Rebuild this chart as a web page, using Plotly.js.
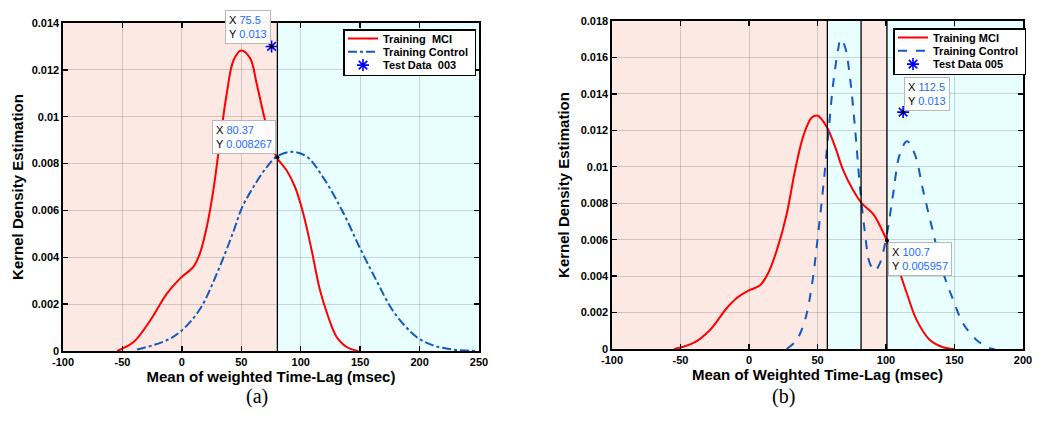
<!DOCTYPE html>
<html><head><meta charset="utf-8">
<script src="https://cdn.plot.ly/plotly-3.0.1.min.js"></script>
<style>html,body{margin:0;padding:0;background:#fff}#chart{width:1050px;height:429px}</style>
</head><body><div id="chart"></div>
<script>
// ---------- Panel (a) data ----------
const mciXA = [-54.6,-50,-40.6,-26.6,-12.6,-1.4,9.8,15.4,21,26.6,32.2,37.8,43.4,49.8,57.4,63,70,79.2,88.2,95.2,102.2,109.2,116.2,123.2,130.2,138.6,148.4];
const mciYA = [0,0.0001,0.00038,0.0013,0.00245,0.0031,0.0036,0.0042,0.0053,0.0069,0.009,0.011,0.0124,0.01283,0.0125,0.0114,0.00985,0.00832,0.0077,0.0070,0.00586,0.0043,0.0026,0.00145,0.0006,0.00017,0];
const ctrlXA = [-37.8,-12.6,0,15.4,29.4,43.4,50.4,60.2,71.4,79.8,92.4,105,119,135.8,149.8,163.8,177.8,197.4,211.4,228.2,247.8];
const ctrlYA = [0.00006,0.00046,0.00088,0.0018,0.0033,0.0051,0.0061,0.0070,0.00785,0.0083,0.0085,0.0083,0.0074,0.0059,0.0044,0.0030,0.0017,0.0006,0.00024,0.00006,0];
const testXA = [75.5], testYA = [0.013];
const tipXA = [75.5, 80.37], tipYA = [0.013, 0.008267];
const tipTextXA = ['75.5', '80.37'], tipTextYA = ['0.013', '0.008267'];
const boundsA = [-100, 80.37, 250];           // region edges: MCI | Control
const regionClassA = ['mci', 'ctrl'];
const vlinesA = [80.37];
const xTicksA = [-100,-50,0,50,100,150,200,250];
const yTicksA = [0,0.002,0.004,0.006,0.008,0.01,0.012,0.014];
const yTickTextA = ['0','0.002','0.004','0.006','0.008','0.01','0.012','0.014'];
const legendNamesA = ['Training  MCI', 'Training Control', 'Test Data  003'];
const xTitleA = 'Mean of weighted Time-Lag (msec)';

// ---------- Panel (b) data ----------
const mciXB = [-54.6,-40.5,-28.3,-16.2,-8.9,-0.4,8.1,14.2,20.2,27.5,33.6,39.7,45.8,50.1,56.7,62.8,68.8,76.1,82.2,90.7,100.4,107.7,115,122.3,132,141.7,149.7];
const mciYB = [0,0.00033,0.00106,0.00225,0.0028,0.0032,0.0035,0.0042,0.0054,0.0074,0.0098,0.0117,0.0127,0.0128,0.0122,0.0111,0.0098,0.0087,0.0080,0.0074,0.0060,0.0047,0.0031,0.0016,0.0005,0.0001,0];
const ctrlXB = [27.5,34.8,40.9,45.7,50.6,54.2,57.9,61.5,65.2,66.9,70,73.7,77.3,81,84.6,88.2,91.9,95.5,100.4,105.2,110.1,115.4,121,127.1,134.4,141.7,149,156.3,166,175.7,179.3];
const ctrlYB = [0,0.0005,0.0016,0.0034,0.0064,0.0089,0.0118,0.0146,0.0165,0.0170,0.0166,0.0149,0.0122,0.0089,0.0064,0.0047,0.0043,0.0047,0.0062,0.0085,0.0107,0.0114,0.0107,0.0087,0.0064,0.0042,0.0027,0.0014,0.0005,0.00005,0];
const testXB = [112.5], testYB = [0.013];
const tipXB = [112.5, 100.7], tipYB = [0.013, 0.005957];
const tipTextXB = ['112.5', '100.7'], tipTextYB = ['0.013', '0.005957'];
const boundsB = [-100, 57.2, 81.8, 100.7, 200];
const regionClassB = ['mci', 'ctrl', 'mci', 'ctrl'];
const vlinesB = [57.2, 81.8, 100.7];
const xTicksB = [-100,-50,0,50,100,150,200];
const yTicksB = [0,0.002,0.004,0.006,0.008,0.01,0.012,0.014,0.016,0.018];
const yTickTextB = ['0','0.002','0.004','0.006','0.008','0.01','0.012','0.014','0.016','0.018'];
const legendNamesB = ['Training MCI', 'Training Control', 'Test Data 005'];
const xTitleB = 'Mean of Weighted Time-Lag (msec)';

const yTitle = 'Kernel Density Estimation';
const panelLabels = ['(a)', '(b)'];

// ---------- styles ----------
const FONT = 'Liberation Sans, Arial, Helvetica, sans-serif';
const RED = '#ff0000', BLUE = '#1558c0', STAR = '#0000ff';
const FILL = {mci: '#fde9e4', ctrl: '#e9fefe'};
const TIPBLUE = '#1a6cff';

function traces(mx, my, cx, cy, tx, ty, px, py, names, xa, ya, leg, dash) {
  return [
    {x: mx, y: my, xaxis: xa, yaxis: ya, legend: leg, name: names[0], type: 'scatter', mode: 'lines',
     line: {color: RED, width: 2, shape: 'spline', smoothing: 1}},
    {x: cx, y: cy, xaxis: xa, yaxis: ya, legend: leg, name: names[1], type: 'scatter', mode: 'lines',
     line: {color: BLUE, width: 2, dash: dash, shape: 'spline', smoothing: 1}},
    {x: tx, y: ty, xaxis: xa, yaxis: ya, legend: leg, name: names[2], type: 'scatter', mode: 'markers',
     marker: {symbol: 'asterisk-open', size: 10, color: STAR, line: {color: STAR, width: 1.6}}},
    {x: px, y: py, xaxis: xa, yaxis: ya, showlegend: false, type: 'scatter', mode: 'markers',
     marker: {size: 4, color: '#000'}, hoverinfo: 'skip'}
  ];
}

const data = [
  ...traces(mciXA, mciYA, ctrlXA, ctrlYA, testXA, testYA, tipXA, tipYA, legendNamesA, 'x', 'y', 'legend', 'dashdot'),
  ...traces(mciXB, mciYB, ctrlXB, ctrlYB, testXB, testYB, tipXB, tipYB, legendNamesB, 'x2', 'y2', 'legend2', 'dash')
];

const shapes = [];
function regions(bounds, cls, vl, xr, yr) {
  for (let i = 0; i < cls.length; i++) {
    shapes.push({type: 'rect', xref: xr, yref: yr + ' domain', x0: bounds[i], x1: bounds[i+1], y0: 0, y1: 1,
      fillcolor: FILL[cls[i]], line: {width: 0}, layer: 'below'});
  }
  vl.forEach(v => shapes.push({type: 'line', xref: xr, yref: yr + ' domain', x0: v, x1: v, y0: 0, y1: 1,
      line: {color: '#000', width: 1.3}, layer: 'above'}));
}
regions(boundsA, regionClassA, vlinesA, 'x', 'y');
regions(boundsB, regionClassB, vlinesB, 'x2', 'y2');

const annotations = [];
function tips(tx, ty, ttx, tty, xr, yr, anchors) {
  for (let i = 0; i < tx.length; i++) {
    const a = anchors[i];
    annotations.push({x: tx[i], y: ty[i], xref: xr, yref: yr, showarrow: false,
      text: 'X <span style="color:' + TIPBLUE + '">' + ttx[i] + '</span><br>Y <span style="color:' + TIPBLUE + '">' + tty[i] + '</span>',
      align: 'left', xanchor: a[0], yanchor: a[1], xshift: a[2], yshift: a[3],
      bgcolor: 'rgba(255,255,255,0.95)', bordercolor: '#b8b8b8', borderwidth: 1, borderpad: 3,
      font: {family: FONT, size: 11, color: '#000'}});
  }
}
tips(tipXA, tipYA, tipTextXA, tipTextYA, 'x', 'y', [['right','bottom',-1,2], ['right','bottom',-1,3]]);
tips(tipXB, tipYB, tipTextXB, tipTextYB, 'x2', 'y2', [['left','bottom',1,1], ['left','top',1,-2]]);

annotations.push({text: panelLabels[0], x: 244/1050, y: 1 - 410/429, xref: 'paper', yref: 'paper', showarrow: false,
  font: {family: 'Liberation Serif, Times New Roman, serif', size: 20, color: '#000'}});
annotations.push({text: panelLabels[1], x: 797/1050, y: 1 - 410/429, xref: 'paper', yref: 'paper', showarrow: false,
  font: {family: 'Liberation Serif, Times New Roman, serif', size: 20, color: '#000'}});

function xaxis(dom, rng, ticks, title, anchor) {
  return {domain: dom, range: rng, anchor: anchor, tickvals: ticks, ticktext: ticks.map(String),
    ticks: 'inside', ticklen: 5, tickwidth: 1.3, tickcolor: '#000', showline: true, linecolor: '#000', linewidth: 1.6,
    mirror: 'ticks', showgrid: true, gridcolor: 'rgba(0,0,0,0.16)', gridwidth: 1, zeroline: false,
    tickfont: {family: FONT, size: 11, weight: 'bold', color: '#000'},
    title: {text: title, font: {family: FONT, size: 15, weight: 'bold', color: '#000'}, standoff: 4}};
}
function yaxis(dom, rng, ticks, text, anchor, standoff) {
  return {domain: dom, range: rng, anchor: anchor, tickvals: ticks, ticktext: text,
    ticks: 'inside', ticklen: 5, tickwidth: 1.3, tickcolor: '#000', showline: true, linecolor: '#000', linewidth: 1.6,
    mirror: 'ticks', showgrid: true, gridcolor: 'rgba(0,0,0,0.16)', gridwidth: 1, zeroline: false,
    tickfont: {family: FONT, size: 11, weight: 'bold', color: '#000'},
    title: {text: yTitle, font: {family: FONT, size: 15, weight: 'bold', color: '#000'}, standoff: standoff}};
}

const legendStyle = {bgcolor: '#fff', bordercolor: '#000', borderwidth: 1.5, xanchor: 'left', yanchor: 'top',
  font: {family: FONT, size: 11, weight: 'bold', color: '#000'}, tracegroupgap: 0, itemwidth: 30};

const layout = {
  width: 1050, height: 429, margin: {l: 0, r: 0, t: 0, b: 0},
  paper_bgcolor: '#fff', plot_bgcolor: '#fff', showlegend: true,
  xaxis: xaxis([63/1050, 479/1050], [-100, 250], xTicksA, xTitleA, 'y'),
  yaxis: yaxis([78/429, 406/429], [0, 0.014], yTicksA, yTickTextA, 'x', 4),
  xaxis2: xaxis([612/1050, 1023/1050], [-100, 200], xTicksB, xTitleB, 'y2'),
  yaxis2: yaxis([80/429, 408/429], [0, 0.018], yTicksB, yTickTextB, 'x2', 7),
  legend: Object.assign({x: 343/1050, y: 1 - 29/429}, legendStyle),
  legend2: Object.assign({x: 893/1050, y: 1 - 28/429}, legendStyle),
  shapes: shapes, annotations: annotations
};

// Compact the legend rows (MATLAB legends are tighter than Plotly's default row height)
function compactLegends() {
  ['legend', 'legend2'].forEach(id => {
    const g = document.querySelector('g.' + id);
    if (!g) return;
    const items = g.querySelectorAll('g.traces');
    const ROW = 13.3, TOP = 9.5;
    items.forEach((it, i) => it.setAttribute('transform', 'translate(0,' + (TOP + i * ROW) + ')'));
    const bg = g.querySelector('rect.bg');
    if (bg) bg.setAttribute('height', TOP * 2 + (items.length - 1) * ROW);
  });
}

Plotly.newPlot('chart', data, layout, {staticPlot: true, displayModeBar: false}).then(compactLegends);
</script>
</body></html>
